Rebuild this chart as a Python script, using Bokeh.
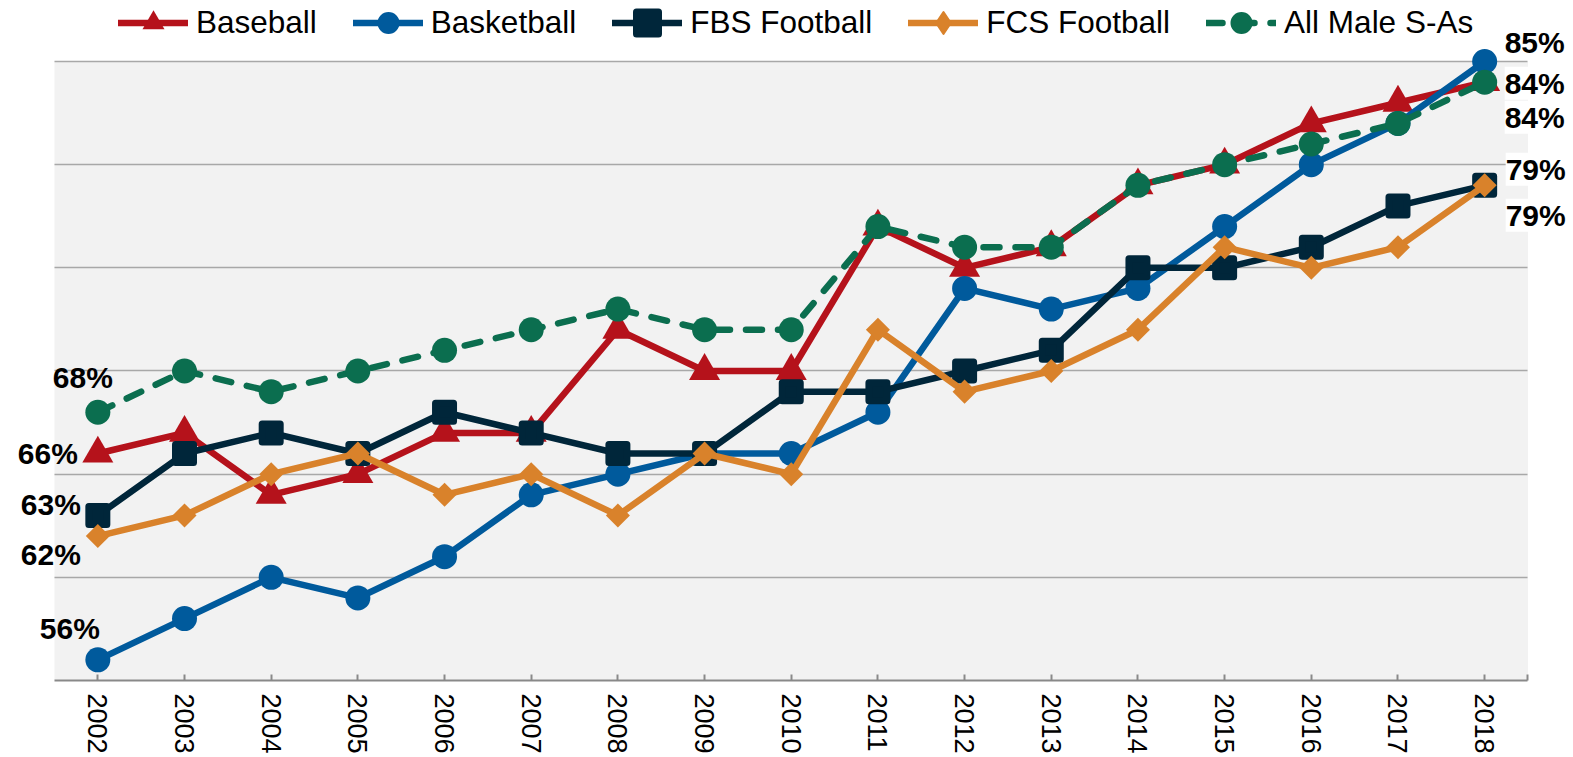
import math
from bokeh.plotting import figure
from bokeh.models import (Range1d, FixedTicker, BoxAnnotation, Label, Legend,
                          LegendItem, ColumnDataSource, CDSView, IndexFilter)
from bokeh.embed import file_html
from bokeh.resources import INLINE

years = [str(y) for y in range(2002, 2019)]
baseball = [66, 67, 64, 65, 67, 67, 72, 70, 70, 77, 75, 76, 79, 80, 82, 83, 84]
basketball = [56, 58, 60, 59, 61, 64, 65, 66, 66, 68, 74, 73, 74, 77, 80, 82, 85]
fbs_football = [63, 66, 67, 66, 68, 67, 66, 66, 69, 69, 70, 71, 75, 75, 76, 78, 79]
fcs_football = [62, 63, 65, 66, 64, 65, 63, 66, 65, 72, 69, 70, 72, 76, 75, 76, 79]
all_male = [68, 70, 69, 70, 71, 72, 73, 72, 72, 77, 76, 76, 79, 80, 81, 82, 84]
grid_ticks = [60, 65, 70, 75, 80, 85]
y_base = 55
y_top = 85

FONT = "Liberation Sans"
C_BASE = "#B5121B"
C_BASK = "#005A9C"
C_FBS = "#00263A"
C_FCS = "#D9822B"
C_ALL = "#0B6E4F"

n = len(years)
xs = list(range(n))
cat_lo, cat_hi = -0.5, n - 0.5

W, H = 1573, 757
p = figure(width=W, height=H,
           x_range=Range1d(cat_lo - 0.623, cat_hi + 0.525),
           y_range=Range1d(51.268, 87.956),
           output_backend="svg", toolbar_location=None,
           y_axis_location=None,
           min_border_left=0, min_border_right=0, min_border_top=0,
           min_border_bottom=0)
p.background_fill_color = "white"
p.border_fill_color = "white"
p.outline_line_color = None

p.add_layout(BoxAnnotation(left=cat_lo, right=cat_hi, bottom=y_base, top=y_top,
                           fill_color="#F2F2F2", fill_alpha=1,
                           line_color=None, level="image"))

for g in p.xgrid:
    g.visible = False
yg = p.ygrid[0]
yg.ticker = FixedTicker(ticks=grid_ticks)
yg.grid_line_color = "#A8A8A8"
yg.grid_line_width = 1.5
if "cross_bounds" in yg.properties():
    yg.cross_bounds = (cat_lo, cat_hi)
else:
    yg.visible = False
    for t in grid_ticks:
        p.add_layout(BoxAnnotation(left=cat_lo, right=cat_hi, bottom=t, top=t,
                                   fill_alpha=0, line_color="#A8A8A8",
                                   line_width=1.5, level="underlay"))

ax = p.xaxis[0]
ax.fixed_location = y_base
ax.bounds = (cat_lo, cat_hi)
ax.ticker = FixedTicker(ticks=xs + [cat_hi])
overrides = {i: y for i, y in enumerate(years)}
overrides[cat_hi] = ""
ax.major_label_overrides = overrides
ax.axis_line_color = "#898989"
ax.axis_line_width = 2
ax.major_tick_line_color = "#898989"
ax.major_tick_line_width = 2
ax.major_tick_in = 6
ax.major_tick_out = 0
ax.minor_tick_line_color = None
ax.major_label_text_font = FONT
ax.major_label_text_font_size = "27px"
ax.major_label_text_color = "black"
ax.major_label_orientation = "vertical"
ax.major_label_standoff = 13

series = [
    ("Baseball", baseball, C_BASE, "triangle"),
    ("Basketball", basketball, C_BASK, "circle"),
    ("FBS Football", fbs_football, C_FBS, "square"),
    ("FCS Football", fcs_football, C_FCS, "diamond"),
    ("All Male S-As", all_male, C_ALL, "circle"),
]

items = []
for name, vals, color, marker in series:
    src = ColumnDataSource(dict(x=xs, y=vals))
    dash = "16 16" if name == "All Male S-As" else "solid"
    lr = p.line("x", "y", source=src, line_color=color, line_width=6.5,
                line_join="round", line_cap="round", line_dash=dash)
    if marker == "triangle":
        sr = p.scatter("x", "y", source=src, marker="triangle", size=31,
                       fill_color=color, line_color=None)
        leg = [lr, sr]
    elif marker == "circle":
        sr = p.scatter("x", "y", source=src, marker="circle", size=25,
                       fill_color=color, line_color=None)
        leg = [lr, sr]
    elif marker == "square":
        sr = p.scatter("x", "y", source=src, marker="square", size=18,
                       fill_color=color, line_color=color, line_width=7,
                       line_join="round")
        leg = [lr, sr]
    else:
        # legend-only diamond (the legend ignores marker rotation); its single
        # point sits hidden under the last rotated-square marker
        dr = p.scatter("x", "y", source=src, marker="diamond", size=20,
                       view=CDSView(filter=IndexFilter(indices=[n - 1])),
                       fill_color=color, line_color=color, line_width=2,
                       line_join="round")
        sr = p.scatter("x", "y", source=src, marker="square", size=17,
                       angle=math.pi / 4, fill_color=color, line_color=None)
        leg = [lr, dr]
    items.append(LegendItem(label=name, renderers=leg))

legend = Legend(items=items, orientation="horizontal", location=(118, 707.5),
                glyph_width=70, glyph_height=55, label_standoff=8, spacing=36,
                padding=0, margin=0, border_line_color=None,
                background_fill_alpha=0, label_text_font_size="31.5px",
                label_text_font=FONT, label_text_color="black")
p.add_layout(legend)

# end-point labels
left_labels = [(all_male, 15, 35), (baseball, -20, 0), (fbs_football, -17, 11),
               (fcs_football, -17, -18), (basketball, 2, 31)]
for vals, dx, dy in left_labels:
    p.add_layout(Label(x=xs[0], y=vals[0], x_offset=dx, y_offset=dy,
                       text=f"{vals[0]}%", text_font=FONT, text_font_size="30px",
                       text_font_style="bold", text_color="black",
                       text_align="right", text_baseline="middle"))

right_labels = [(basketball, 20, 19), (all_male, 20, -1), (baseball, 20, -35),
                (fbs_football, 21, 16), (fcs_football, 21, -30)]
for vals, dx, dy in right_labels:
    p.add_layout(Label(x=xs[-1], y=vals[-1], x_offset=dx, y_offset=dy,
                       text=f"{vals[-1]}%", text_font=FONT,
                       text_font_size="30px", text_font_style="bold",
                       text_color="black", text_align="left",
                       text_baseline="middle", background_fill_color="white"))

open("out.html", "w").write(file_html(p, INLINE))
